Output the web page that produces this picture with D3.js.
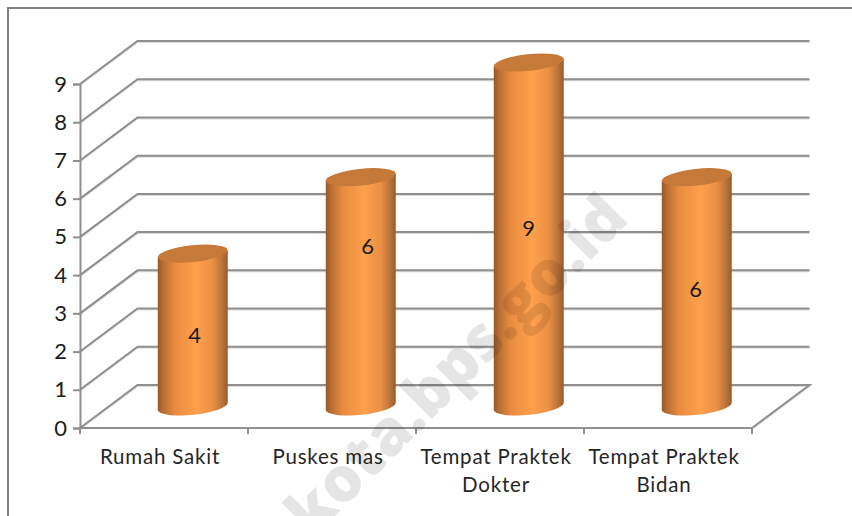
<!DOCTYPE html>
<html>
<head>
<meta charset="utf-8">
<script src="https://cdn.jsdelivr.net/npm/d3@7"></script>
<style>
  html, body { margin: 0; padding: 0; background: #fff; }
  svg { display: block; }
</style>
</head>
<body>
<div id="chart"></div>
<script>
const categories = ['Rumah Sakit', 'Puskes mas', 'Tempat Praktek Dokter', 'Tempat Praktek Bidan'];
const values = [4, 6, 9, 6];
const yTicks = [0, 1, 2, 3, 4, 5, 6, 7, 8, 9];
const categoryLines = [['Rumah Sakit'], ['Puskes mas'], ['Tempat Praktek', 'Dokter'], ['Tempat Praktek', 'Bidan']];

const width = 852, height = 516;
const gridColor = '#8f8f8f';
const font = 'Lato, "Open Sans", sans-serif';

// 3d offset of the back wall from the front plane
const depth = { x: 57.5, y: -43 };
const barWidth = 70;
const tilt = 6;
const capRy = 8.5;

const svg = d3
  .select('#chart')
  .append('svg')
  .attr('width', width)
  .attr('height', height)
  .style('background-color', '#fff');

const x = d3.scaleBand().domain(categories).range([80, 752]);
const y = d3.scaleLinear().domain([0, 9]).range([428, 84]);

// Gradient for the cylinder side
const grad = svg
  .append('defs')
  .append('linearGradient')
  .attr('id', 'cyl')
  .attr('x1', 0).attr('x2', 1).attr('y1', 0).attr('y2', 0);
[
  [0, '#99582a'],
  [0.08, '#b96f33'],
  [0.25, '#ea8c40'],
  [0.55, '#ffa04c'],
  [0.78, '#ec9044'],
  [0.93, '#b5713a'],
  [1, '#985a2c']
].forEach(([o, c]) => grad.append('stop').attr('offset', o).attr('stop-color', c));

// Outer frame, only top and left show
svg
  .append('path')
  .attr('d', `M8,${height}V8H${width}`)
  .attr('fill', 'none')
  .attr('stroke', '#808080')
  .attr('stroke-width', 2);

// Gridlines on the side and back walls
const grid = svg.append('g').attr('fill', 'none').style('filter', 'drop-shadow(0 1px 0 #dcdcdc)');
grid
  .selectAll('path')
  .data(yTicks)
  .join('path')
  .attr('d', (d) => {
    const left = 80, right = 752;
    const p = d3.path();
    p.moveTo(left, y(d));
    p.lineTo(left + depth.x, y(d) + depth.y);
    p.lineTo(right + depth.x, y(d) + depth.y);
    if (d === 0) p.lineTo(right, y(d));
    return p.toString();
  })
  .attr('stroke', gridColor)
  .attr('stroke-width', 2);

// Y axis
const yAxis = svg
  .append('g')
  .attr('transform', 'translate(80,0)')
  .call(d3.axisLeft(y).tickValues(yTicks).tickSize(7).tickPadding(6).tickFormat(d3.format('d')));
yAxis.selectAll('path,line').attr('stroke', gridColor).attr('stroke-width', 2);
yAxis.selectAll('text').attr('fill', '#1c1c1c').style('font-family', font).style('font-size', '22px');

// X axis, ticks sit between the categories
const xEdges = d3.range(categories.length + 1).map((i) => x.range()[0] + i * x.step());
const xAxis = svg.append('g').attr('transform', `translate(0,${y(0)})`);
xAxis
  .append('path')
  .attr('d', `M${x.range()[0]},0H${x.range()[1]}`)
  .attr('stroke', gridColor)
  .attr('stroke-width', 2);
xAxis
  .selectAll('line')
  .data(xEdges)
  .join('line')
  .attr('x1', (d) => d).attr('x2', (d) => d)
  .attr('y1', 0).attr('y2', 6)
  .attr('stroke', gridColor)
  .attr('stroke-width', 2);

const labels = svg
  .append('g')
  .attr('text-anchor', 'middle')
  .attr('fill', '#262626')
  .style('font-family', font)
  .style('font-size', '20.5px')
  .style('letter-spacing', '0.8px');
labels
  .selectAll('text')
  .data(categories)
  .join('text')
  .attr('transform', (d) => `translate(${x(d) + x.bandwidth() / 2 - 4},464)`)
  .selectAll('tspan')
  .data((d, i) => categoryLines[i])
  .join('tspan')
  .attr('x', 0)
  .attr('y', (d, i) => i * 28)
  .text((d) => d);

// Bars
const barCx = (i) => x(categories[i]) + x.bandwidth() / 2 + depth.x / 2;
const barY = (v) => y(v) + depth.y / 2;
const dx = barWidth / 2;
const dy = dx * Math.tan((tilt * Math.PI) / 180);
const arc = (rx, sweep, tx, ty) => `A${rx},${capRy} ${-tilt} 0 ${sweep} ${tx},${ty}`;

const bars = svg.append('g').selectAll('g').data(values).join('g');
bars
  .append('path')
  .attr('d', (v, i) => {
    const cx = barCx(i), top = barY(v), base = barY(0);
    return (
      `M${cx - dx},${top + dy}V${base + dy}` +
      arc(dx + 0.2, 0, cx + dx, base - dy) +
      `V${top - dy}Z`
    );
  })
  .attr('fill', 'url(#cyl)');
bars
  .append('path')
  .attr('d', (v, i) => {
    const cx = barCx(i), top = barY(v);
    return (
      `M${cx - dx},${top + dy}` +
      arc(dx + 0.2, 1, cx + dx, top - dy) +
      arc(dx + 0.2, 1, cx - dx, top + dy) +
      'Z'
    );
  })
  .attr('fill', '#c57a3a');

// Value labels were dragged by hand in the original
const labelNudge = [[2, 5], [7, -46], [0, -6], [-1, -3]];
svg
  .append('g')
  .attr('text-anchor', 'middle')
  .attr('fill', '#1a1a1a')
  .style('font-family', font)
  .style('font-size', '22px')
  .selectAll('text')
  .data(values)
  .join('text')
  .attr('x', (v, i) => barCx(i) + labelNudge[i][0])
  .attr('y', (v, i) => (barY(v) + barY(0)) / 2 + labelNudge[i][1])
  .attr('dy', '0.35em')
  .text((v) => v);

// Watermark
svg
  .append('text')
  .attr('transform', 'translate(312,539) rotate(-45)')
  .attr('fill', '#000')
  .attr('fill-opacity', 0.1)
  .style('font-family', '"Open Sans", sans-serif')
  .style('font-weight', 800)
  .style('font-size', '62px')
  .text('kota.bps.go.id');
</script>
</body>
</html>
